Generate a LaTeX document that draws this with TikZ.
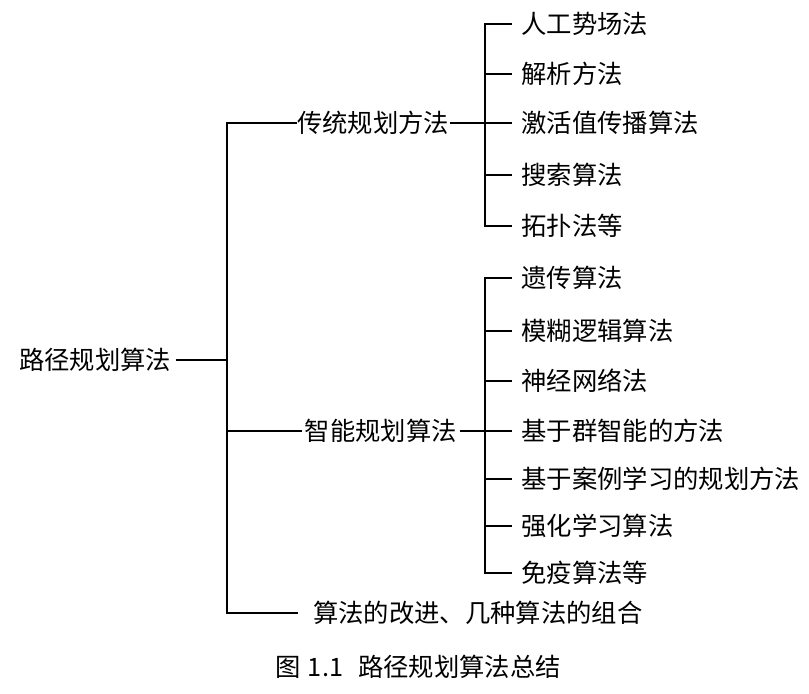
\documentclass[tikz,border=0pt]{standalone}
\usepackage{fontspec}
\newfontfamily\cjk{Noto Sans CJK SC}
\usetikzlibrary{positioning,calc}

\begin{document}
\begin{tikzpicture}[
    x=0.75pt, y=-0.75pt,
    txt/.style={font=\cjk\fontsize{19}{21}\selectfont, inner ysep=2pt, anchor=west},
    leaf/.style={txt, inner xsep=7pt},
    branch/.style={line width=1.7pt}
]
    \useasboundingbox (0,0) rectangle (809,693);

    % root and its three branches
    \node[txt, inner xsep=3pt] (root) at (15,360) {路径规划算法};
    \coordinate (rootfork) at (227,360);
    \node[txt, inner xsep=0pt] (trad) at (297,123) {传统规划方法};
    \node[txt, inner xsep=2pt] (intel) at (302,431) {智能规划算法};
    \node[txt, inner xsep=0pt] (improve) at (313,613) {算法的改进、几种算法的组合};

    % traditional methods
    \coordinate (tfork) at (485,123);
    \node[leaf] (t1) at (512,24) {人工势场法};
    \node[leaf] (t2) at (512,74) {解析方法};
    \node[leaf] (t3) at (512,123) {激活值传播算法};
    \node[leaf] (t4) at (512,175) {搜索算法};
    \node[leaf] (t5) at (512,226) {拓扑法等};

    % intelligent methods
    \coordinate (ifork) at (485,431);
    \node[leaf] (i1) at (512,278) {遗传算法};
    \node[leaf] (i2) at (512,331) {模糊逻辑算法};
    \node[leaf] (i3) at (512,381) {神经网络法};
    \node[leaf] (i4) at (512,431) {基于群智能的方法};
    \node[leaf] (i5) at (512,479) {基于案例学习的规划方法};
    \node[leaf] (i6) at (512,526) {强化学习算法};
    \node[leaf] (i7) at (512,573) {免疫算法等};

    \draw[branch] (root) -- (rootfork);
    \draw[branch, shorten >=11pt] (trad.west) -| (rootfork |- improve.west) -- (improve.west);
    \draw[branch] (rootfork |- intel.west) -- (intel.west);

    \draw[branch] (trad) -- (tfork);
    \draw[branch] (t1.west) -| (tfork |- t5.west) -- (t5.west);
    \foreach \n in {2,3,4}
        \draw[branch] (tfork |- t\n.west) -- (t\n.west);

    \draw[branch] (intel) -- (ifork);
    \draw[branch] (i1.west) -| (ifork |- i7.west) -- (i7.west);
    \foreach \n in {2,...,6}
        \draw[branch] (ifork |- i\n.west) -- (i\n.west);

    \node[txt, anchor=center] (caption) at (418,667) {图\hspace{0.3em}1.1\hspace{0.6em}路径规划算法总结};
\end{tikzpicture}
\end{document}
